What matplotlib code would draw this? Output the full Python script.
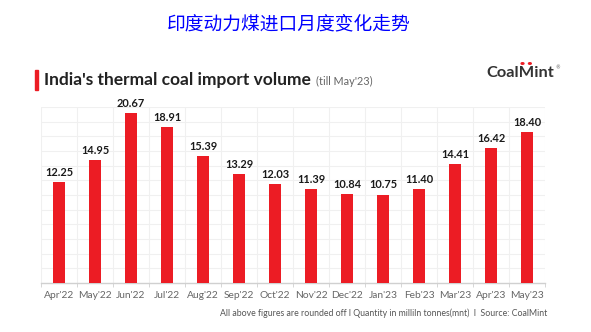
import matplotlib
matplotlib.use("Agg")
import matplotlib.pyplot as plt
from matplotlib.patches import Rectangle, Circle
import numpy as np

categories = ["Apr'22", "May'22", "Jun'22", "Jul'22", "Aug'22", "Sep'22", "Oct'22",
              "Nov'22", "Dec'22", "Jan'23", "Feb'23", "Mar'23", "Apr'23", "May'23"]
values = [12.25, 14.95, 20.67, 18.91, 15.39, 13.29, 12.03,
          11.39, 10.84, 10.75, 11.40, 14.41, 16.42, 18.40]
value_labels = ["12.25", "14.95", "20.67", "18.91", "15.39", "13.29", "12.03",
                "11.39", "10.84", "10.75", "11.40", "14.41", "16.42", "18.40"]

W, H = 591, 332
FONT = "Lato"
fig = plt.figure(figsize=(W / 100, H / 100), dpi=100)
fig.patch.set_facecolor("white")

ax = fig.add_axes([41 / W, 1 - 283 / H, (545 - 41) / W, (283 - 107) / H])
x = np.arange(len(categories))
ymax = 21.4
ax.bar(x, values, width=0.33, color="#EC1C24", zorder=3)
ax.set_xlim(-0.5, len(categories) - 0.5)
ax.set_ylim(0, ymax)

# light grid
for gy in np.linspace(0, ymax, 13)[1:]:
    ax.axhline(gy, color="#F0F0F0", lw=0.8, zorder=0)
for gx in np.arange(-0.5, len(categories), 1.0):
    ax.axvline(gx, color="#F0F0F0", lw=0.8, zorder=0)

for s in ["top", "right", "left"]:
    ax.spines[s].set_visible(False)
ax.spines["bottom"].set_color("#D0D0D0")
ax.spines["bottom"].set_linewidth(1.0)
ax.set_yticks([])
ax.set_xticks(x)
ax.set_xticklabels(categories, fontsize=7.4, color="#666666", family=FONT)
ax.tick_params(axis="x", length=0, pad=6)
ax.set_xticks(np.arange(-0.5, len(categories), 1.0), minor=True)
ax.tick_params(axis="x", which="minor", length=3, color="#D0D0D0")

for xi, v, lab in zip(x, values, value_labels):
    ax.text(xi, v + 0.5, lab, ha="center", va="bottom", fontsize=7.9,
            fontweight="bold", color="#1A1A1A", family=FONT)

# Chinese title
fig.text(289 / W, 1 - 24 / H, "印度动力煤进口月度变化走势", ha="center", va="center",
         fontsize=13.5, color="#0000FF", family=["Noto Sans CJK SC", "DejaVu Sans"])

# red accent bar
fig.patches.append(Rectangle((35 / W, 1 - 90 / H), 3.2 / W, 20 / H,
                             transform=fig.transFigure, color="#EC1C24"))
t = fig.text(44 / W, 1 - 80 / H, "India's thermal coal import volume", ha="left", va="center",
             fontsize=12.5, fontweight="bold", color="#222222", family=FONT)
fig.canvas.draw()
bb = t.get_window_extent()
fig.text((bb.x1 + 5) / W, 1 - 81 / H, "(till May'23)", ha="left", va="center",
         fontsize=7.8, color="#666666", family=FONT)

# CoalMint logo
logo_kw = dict(fontsize=11.8, fontweight="bold", family=FONT)
logo = fig.text(486 / W, 1 - 73 / H, "CoalMint", ha="left", va="center",
                color="#333333", **logo_kw)
fig.canvas.draw()
r = fig.canvas.get_renderer()
lb = logo.get_window_extent(r)
tmp1 = fig.text(0, 0, "Coal", **logo_kw)
tmp2 = fig.text(0, 0, "CoalM", **logo_kw)
w1 = tmp1.get_window_extent(r).width
w2 = tmp2.get_window_extent(r).width
tmp1.remove()
tmp2.remove()
mx0 = lb.x0 + w1
mx1 = lb.x0 + w2
for frac in (0.25, 0.72):
    cx = mx0 + frac * (mx1 - mx0)
    fig.patches.append(Circle((cx / W, (lb.y1 + 2.5) / H), 1.4 / W,
                              transform=fig.transFigure, color="#EC1C24"))
fig.text((lb.x1 + 1.5) / W, (lb.y1 - 2) / H, "®", ha="left", va="center",
         fontsize=3.5, color="#555555")

# footer
fig.text(547 / W, 1 - 313 / H,
         "All above figures are rounded off l Quantity in milliln tonnes(mnt)  l  Source: CoalMint",
         ha="right", va="center", fontsize=6.3, color="#555555", family=FONT)

fig.savefig("out.png", dpi=100, facecolor="white")
